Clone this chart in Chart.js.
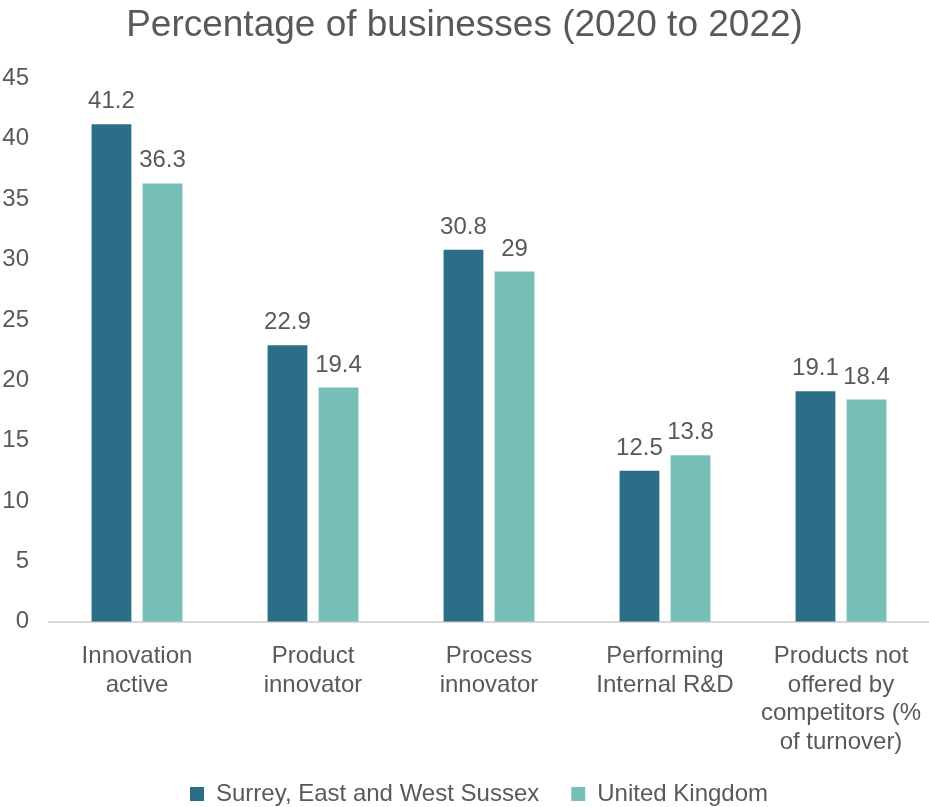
<!DOCTYPE html>
<html>
<head>
<meta charset="utf-8">
<title>Percentage of businesses (2020 to 2022)</title>
<script src="https://cdn.jsdelivr.net/npm/chart.js@4/dist/chart.umd.min.js"></script>
<style>
  html, body { margin: 0; padding: 0; background: #fff; }
  #wrap { width: 929px; height: 807px; }
</style>
</head>
<body>
<div id="wrap"><canvas id="chart"></canvas></div>
<script>
// Innovation measures by area
const categories = [
  ['Innovation', 'active'],
  ['Product', 'innovator'],
  ['Process', 'innovator'],
  ['Performing', 'Internal R&D'],
  ['Products not', 'offered by', 'competitors (%', 'of turnover)']
];
const surreySussex = [41.2, 22.9, 30.8, 12.5, 19.1];
const unitedKingdom = [36.3, 19.4, 29, 13.8, 18.4];
const yTicks = [0, 5, 10, 15, 20, 25, 30, 35, 40, 45];

const FONT = '"Liberation Sans", Arial, sans-serif';
const GREY = '#595959';

// writes each bar's value above it
const valueLabels = {
  id: 'valueLabels',
  afterDatasetsDraw(chart) {
    const ctx = chart.ctx;
    ctx.save();
    ctx.font = '24px ' + FONT;
    ctx.fillStyle = GREY;
    ctx.textAlign = 'center';
    ctx.textBaseline = 'alphabetic';
    chart.data.datasets.forEach((ds, i) => {
      chart.getDatasetMeta(i).data.forEach((bar, j) => {
        ctx.fillText(String(ds.data[j]), bar.x, bar.y - 16);
      });
    });
    ctx.restore();
  }
};

// nudge the legend: centred under the plot, pulled up into the gap below the labels
const legendShift = {
  id: 'legendShift',
  afterLayout(chart) {
    const lg = chart.legend;
    lg.left += 29;
    lg.top -= 19;
  }
};

const chart = new Chart(document.getElementById('chart'), {
  type: 'bar',
  data: {
    labels: categories,
    datasets: [
      { label: 'Surrey, East and West Sussex', data: surreySussex, backgroundColor: '#2C6E87' },
      { label: 'United Kingdom', data: unitedKingdom, backgroundColor: '#76C0B8' }
    ]
  },
  options: {
    responsive: true,
    maintainAspectRatio: false,
    animation: false,
    datasets: { bar: { categoryPercentage: 0.58, barPercentage: 0.78 } },
    layout: { padding: 0 },
    plugins: {
      title: {
        display: true,
        text: 'Percentage of businesses (2020 to 2022)',
        color: GREY,
        font: { family: FONT, size: 37, weight: 'normal' },
        padding: { top: 4, bottom: 30 }
      },
      legend: {
        position: 'bottom',
        maxHeight: 38,
        labels: {
          color: GREY,
          font: { family: FONT, size: 24 },
          boxWidth: 14,
          boxHeight: 14,
          padding: 32
        }
      },
      tooltip: { enabled: false }
    },
    scales: {
      x: {
        afterFit(scale) { scale.paddingLeft = 0; scale.paddingRight = 0; },
        grid: { display: false },
        border: { color: '#D9D9D9', width: 2 },
        ticks: { color: GREY, font: { family: FONT, size: 24, lineHeight: 1.2 }, maxRotation: 0, padding: 12 }
      },
      y: {
        min: 0,
        max: 45,
        afterBuildTicks(scale) { scale.ticks = yTicks.map(v => ({ value: v })); },
        afterFit(scale) { scale.width = 49; },
        grid: { display: false },
        border: { display: false },
        ticks: { color: GREY, font: { family: FONT, size: 24 }, padding: 12 }
      }
    }
  },
  plugins: [valueLabels, legendShift]
});
</script>
</body>
</html>
